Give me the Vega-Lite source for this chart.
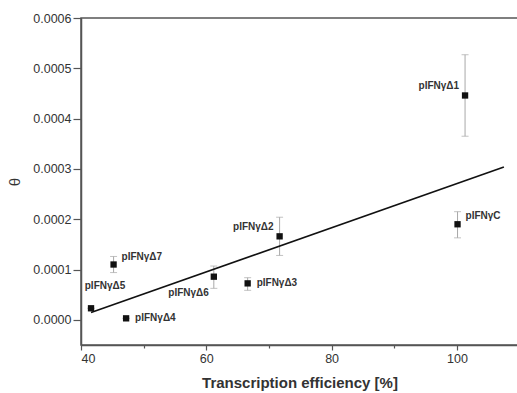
{
  "$schema": "https://vega.github.io/schema/vega-lite/v6.json",
  "width": 437,
  "height": 327,
  "autosize": "none",
  "padding": {"left": 81, "top": 18, "right": 0, "bottom": 48},
  "background": "white",
  "config": {
    "view": {"stroke": "#555555", "strokeWidth": 1.5},
    "font": "Liberation Sans",
    "axis": {
      "domainColor": "#555555",
      "domainWidth": 1.5,
      "tickColor": "#555555",
      "tickWidth": 1.2,
      "labelColor": "#333333",
      "labelFont": "Liberation Sans",
      "labelFontSize": 12.5,
      "titleColor": "#333333",
      "titleFont": "Liberation Sans",
      "grid": false
    }
  },
  "datasets": {
    "pts": [
      {"name": "pIFNγΔ1", "x": 101.3, "y": 0.000446, "lo": 0.000365, "hi": 0.000527},
      {"name": "pIFNγC", "x": 100.1, "y": 0.00019, "lo": 0.000163, "hi": 0.000215},
      {"name": "pIFNγΔ2", "x": 71.7, "y": 0.000166, "lo": 0.000128, "hi": 0.000204},
      {"name": "pIFNγΔ3", "x": 66.6, "y": 0.0000725, "lo": 0.0000587, "hi": 0.0000838},
      {"name": "pIFNγΔ6", "x": 61.2, "y": 0.0000858, "lo": 0.0000626, "hi": 0.000107},
      {"name": "pIFNγΔ7", "x": 45.2, "y": 0.00011, "lo": 0.000094, "hi": 0.000126},
      {"name": "pIFNγΔ4", "x": 47.2, "y": 0.000003, "lo": 0.000003, "hi": 0.000003},
      {"name": "pIFNγΔ5", "x": 41.6, "y": 0.000023, "lo": 0.000023, "hi": 0.000023}
    ],
    "fit": [
      {"x": 41.6, "y": 0.0000146},
      {"x": 107.5, "y": 0.000304}
    ]
  },
  "layer": [
    {
      "data": {"name": "pts"},
      "mark": {"type": "rule", "color": "#a8a8a8", "strokeWidth": 1},
      "encoding": {
        "x": {
          "field": "x", "type": "quantitative",
          "scale": {"domain": [40, 109.75], "nice": false, "zero": false},
          "axis": {
            "values": [40, 50, 60, 70, 80, 90, 100],
            "labelExpr": "datum.value % 20 === 0 ? datum.label : ''",
            "tickSize": {"expr": "datum.value % 20 === 0 ? 5 : 3"},
            "labelPadding": 2,
            "title": "Transcription efficiency [%]",
            "titleFontSize": 15,
            "titleFontWeight": "bold",
            "titlePadding": 11
          }
        },
        "y": {
          "field": "lo", "type": "quantitative",
          "scale": {"domain": [-0.00005, 0.0006], "nice": false, "zero": false},
          "axis": {
            "values": [0, 0.00005, 0.0001, 0.00015, 0.0002, 0.00025, 0.0003, 0.00035, 0.0004, 0.00045, 0.0005, 0.00055, 0.0006],
            "format": ".4f",
            "labelExpr": "round(datum.value * 100000) % 2 === 0 ? datum.label : ''",
            "tickSize": {"expr": "round(datum.value * 100000) % 2 === 0 ? 8 : 4"},
            "labelPadding": 2,
            "title": "θ",
            "titleFontSize": 15,
            "titleFontWeight": "normal",
            "titlePadding": 10
          }
        },
        "y2": {"field": "hi"}
      }
    },
    {
      "data": {"name": "pts"},
      "mark": {"type": "tick", "orient": "horizontal", "color": "#a8a8a8", "size": 7, "thickness": 1},
      "encoding": {
        "x": {"field": "x", "type": "quantitative"},
        "y": {"field": "lo", "type": "quantitative"}
      }
    },
    {
      "data": {"name": "pts"},
      "mark": {"type": "tick", "orient": "horizontal", "color": "#a8a8a8", "size": 7, "thickness": 1},
      "encoding": {
        "x": {"field": "x", "type": "quantitative"},
        "y": {"field": "hi", "type": "quantitative"}
      }
    },
    {
      "data": {"name": "fit"},
      "mark": {"type": "line", "color": "#111111", "strokeWidth": 1.6},
      "encoding": {
        "x": {"field": "x", "type": "quantitative"},
        "y": {"field": "y", "type": "quantitative"}
      }
    },
    {
      "data": {"name": "pts"},
      "mark": {"type": "square", "color": "#111111", "opacity": 1, "size": 40, "filled": true},
      "encoding": {
        "x": {"field": "x", "type": "quantitative"},
        "y": {"field": "y", "type": "quantitative"}
      }
    },
    {
      "data": {"name": "pts"},
      "transform": [{"filter": "datum.name === 'pIFNγΔ4' || datum.name === 'pIFNγΔ3'"}],
      "mark": {"type": "text", "align": "left", "baseline": "middle", "dx": 9, "dy": 0, "fontSize": 10, "fontWeight": "bold", "color": "#333333"},
      "encoding": {
        "x": {"field": "x", "type": "quantitative"},
        "y": {"field": "y", "type": "quantitative"},
        "text": {"field": "name"}
      }
    },
    {
      "data": {"name": "pts"},
      "transform": [{"filter": "datum.name === 'pIFNγΔ7' || datum.name === 'pIFNγC'"}],
      "mark": {"type": "text", "align": "left", "baseline": "middle", "dx": 8, "dy": -8, "fontSize": 10, "fontWeight": "bold", "color": "#333333"},
      "encoding": {
        "x": {"field": "x", "type": "quantitative"},
        "y": {"field": "y", "type": "quantitative"},
        "text": {"field": "name"}
      }
    },
    {
      "data": {"name": "pts"},
      "transform": [{"filter": "datum.name === 'pIFNγΔ1' || datum.name === 'pIFNγΔ2'"}],
      "mark": {"type": "text", "align": "right", "baseline": "middle", "dx": -6, "dy": -9, "fontSize": 10, "fontWeight": "bold", "color": "#333333"},
      "encoding": {
        "x": {"field": "x", "type": "quantitative"},
        "y": {"field": "y", "type": "quantitative"},
        "text": {"field": "name"}
      }
    },
    {
      "data": {"name": "pts"},
      "transform": [{"filter": "datum.name === 'pIFNγΔ6'"}],
      "mark": {"type": "text", "align": "right", "baseline": "middle", "dx": -5, "dy": 16, "fontSize": 10, "fontWeight": "bold", "color": "#333333"},
      "encoding": {
        "x": {"field": "x", "type": "quantitative"},
        "y": {"field": "y", "type": "quantitative"},
        "text": {"field": "name"}
      }
    },
    {
      "data": {"name": "pts"},
      "transform": [{"filter": "datum.name === 'pIFNγΔ5'"}],
      "mark": {"type": "text", "align": "center", "baseline": "middle", "dx": 14, "dy": -22, "fontSize": 10, "fontWeight": "bold", "color": "#333333"},
      "encoding": {
        "x": {"field": "x", "type": "quantitative"},
        "y": {"field": "y", "type": "quantitative"},
        "text": {"field": "name"}
      }
    }
  ]
}
